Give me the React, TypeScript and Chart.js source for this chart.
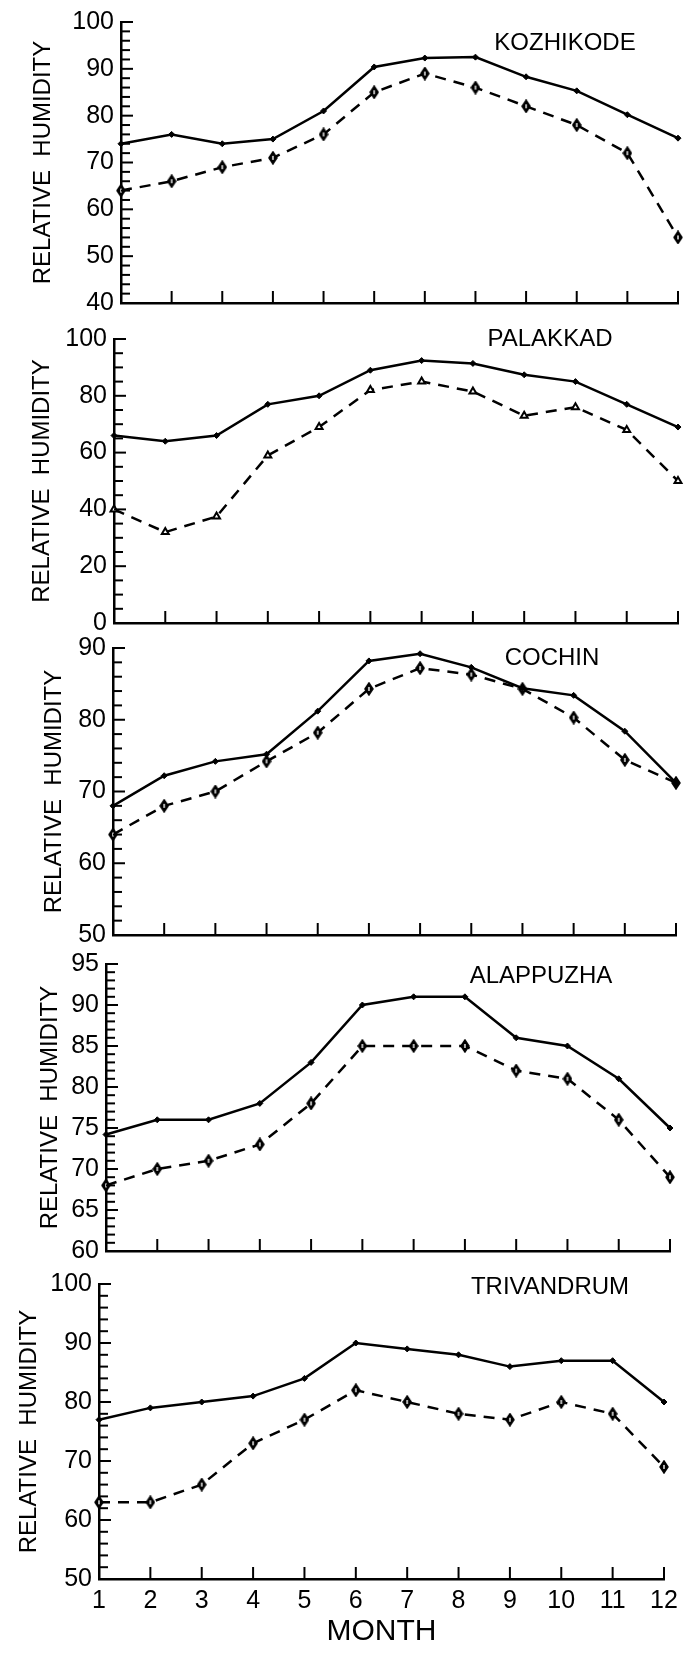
import React, { useEffect, useRef } from 'react';
import { Chart, registerables } from 'chart.js';

Chart.register(...registerables);

const months = ['1', '2', '3', '4', '5', '6', '7', '8', '9', '10', '11', '12'];

const stationNames = ['KOZHIKODE', 'PALAKKAD', 'COCHIN', 'ALAPPUZHA', 'TRIVANDRUM'];

const kozhikodeMax = [74, 76, 74, 75, 81, 90.4, 92.3, 92.5, 88.3, 85.3, 80.2, 75.2];
const kozhikodeMin = [64, 66, 69, 71, 76, 85, 89, 86, 82, 78, 72, 54];

const palakkadMax = [66, 64, 66, 77, 80, 89, 92.4, 91.4, 87.4, 85, 77, 69];
const palakkadMin = [40, 32, 37.5, 59, 69, 82, 85, 81.5, 73, 76, 68, 50];

const cochinMax = [68, 72.2, 74.2, 75.2, 81.2, 88.2, 89.2, 87.3, 84.4, 83.4, 78.4, 71.2];
const cochinMin = [64, 68, 70, 74.2, 78.2, 84.3, 87.2, 86.3, 84.3, 80.3, 74.4, 71.2];

const alappuzhaMax = [74.2, 76, 76, 78, 83, 90, 91, 91, 86, 85, 81, 75];
const alappuzhaMin = [68, 70, 71, 73, 78, 85, 85, 85, 82, 81, 76, 69];

const trivandrumMax = [77, 79, 80, 81, 84, 90, 89, 88, 86, 87, 87, 80];
const trivandrumMin = [63, 63, 66, 73, 77, 82, 80, 78, 77, 80, 78, 69];

const yMins = [40, 0, 50, 60, 50];
const yMaxs = [100, 100, 90, 95, 100];
const yMajorSteps = [10, 20, 10, 5, 10];
const yMinorSteps = [2, 5, 2, 1, 2];

const maxSeries = [kozhikodeMax, palakkadMax, cochinMax, alappuzhaMax, trivandrumMax];
const minSeries = [kozhikodeMin, palakkadMin, cochinMin, alappuzhaMin, trivandrumMin];

const yTitle = 'RELATIVE  HUMIDITY';
const xTitle = 'MONTH';

// layout (page pixels)
const LAYOUT = [
  { left: 121, right: 684, top: 18, bottom: 305, titlePad: 29, labelX: 565, labelY: 43 },
  { left: 114, right: 678, top: 337, bottom: 625, titlePad: 28, labelX: 550, labelY: 339 },
  { left: 113, right: 676, top: 646, bottom: 937, titlePad: 40, labelX: 552, labelY: 658 },
  { left: 106, right: 670, top: 962, bottom: 1253, titlePad: 36, labelX: 541, labelY: 976 },
  { left: 99, right: 664, top: 1282, bottom: 1579, titlePad: 15, labelX: 550, labelY: 1287 },
];

const PAGE_W = 685;
const PAGE_H = 1653;
const FONT = "'Liberation Sans', Arial, Helvetica, sans-serif";

function makeDiamond() {
  const c = document.createElement('canvas');
  c.width = 10;
  c.height = 14;
  const g = c.getContext('2d')!;
  g.beginPath();
  g.moveTo(5, 1);
  g.lineTo(9, 7);
  g.lineTo(5, 13);
  g.lineTo(1, 7);
  g.closePath();
  g.fillStyle = '#000';
  g.fill();
  g.lineWidth = 1.5;
  g.strokeStyle = '#000';
  g.stroke();
  g.fillStyle = '#fff';
  g.fillRect(4.3, 5, 1.4, 4);
  return c;
}

const inwardTicks = {
  id: 'inwardTicks',
  afterDraw(chart: any, _args: any, opts: any) {
    const { ctx, chartArea, scales } = chart;
    const ys = scales.y;
    const xs = scales.x;
    ctx.save();
    ctx.strokeStyle = '#000';
    ctx.lineWidth = 2;
    const minor = opts.minor;
    const major = opts.major;
    for (let v = ys.min; v <= ys.max + 1e-6; v += minor) {
      const py = ys.getPixelForValue(v);
      const isMajor = Math.abs(((v - ys.min) / major) - Math.round((v - ys.min) / major)) < 1e-6;
      const len = isMajor ? 12 : 9;
      ctx.beginPath();
      ctx.moveTo(chartArea.left, py);
      ctx.lineTo(chartArea.left + len, py);
      ctx.stroke();
    }
    for (let i = 1; i < xs.ticks.length; i++) {
      const px = xs.getPixelForTick(i);
      ctx.beginPath();
      ctx.moveTo(px, chartArea.bottom);
      ctx.lineTo(px, chartArea.bottom - 12);
      ctx.stroke();
    }
    // station name
    ctx.fillStyle = '#000';
    ctx.font = `24px ${FONT}`;
    ctx.textAlign = 'center';
    ctx.textBaseline = 'middle';
    ctx.fillText(opts.label, opts.labelX, opts.labelY);
    ctx.restore();
  },
};

function Panel({ idx }: { idx: number }) {
  const ref = useRef<HTMLCanvasElement>(null);
  const L = LAYOUT[idx];
  const isLast = idx === LAYOUT.length - 1;
  const padTop = Math.min(20, L.top);
  const canvasTop = L.top - padTop;
  const canvasBottom = isLast ? PAGE_H : L.bottom + 20;
  const h = canvasBottom - canvasTop;
  const padBottom = isLast ? 0 : 20;
  const xHeight = isLast ? PAGE_H - L.bottom : 0;

  useEffect(() => {
    const canvas = ref.current!;
    const diamond = makeDiamond();
    const chart = new Chart(canvas, {
      type: 'line',
      data: {
        labels: months,
        datasets: [
          {
            data: maxSeries[idx],
            borderColor: '#000',
            borderWidth: 2.5,
            pointStyle: 'rectRot',
            pointRadius: 3,
            pointBackgroundColor: '#000',
            pointBorderColor: '#000',
            pointBorderWidth: 1,
            tension: 0,
          },
          {
            data: minSeries[idx],
            borderColor: '#000',
            borderWidth: 2.5,
            borderDash: [11, 8],
            pointStyle: idx === 1 ? 'triangle' : (diamond as any),
            pointRadius: idx === 1 ? 4 : 5,
            pointBackgroundColor: idx === 1 ? '#fff' : '#000',
            pointBorderColor: '#000',
            pointBorderWidth: 2,
            tension: 0,
          },
        ],
      },
      options: {
        animation: false,
        responsive: false,
        devicePixelRatio: 1,
        layout: {
          padding: { left: 0, top: padTop, right: PAGE_W - L.right, bottom: padBottom },
        },
        plugins: {
          legend: { display: false },
          tooltip: { enabled: false },
          inwardTicks: {
            minor: yMinorSteps[idx],
            major: yMajorSteps[idx],
            label: stationNames[idx],
            labelX: L.labelX,
            labelY: L.labelY - canvasTop,
          },
        } as any,
        scales: {
          x: {
            type: 'category',
            offset: false,
            grid: { display: false, drawTicks: false },
            border: { display: true, color: '#000', width: 2.5 },
            ticks: {
              display: isLast,
              color: '#000',
              font: { family: FONT, size: 25 },
              padding: 7,
              maxRotation: 0,
              autoSkip: false,
            },
            title: {
              display: isLast,
              text: xTitle,
              color: '#000',
              font: { family: FONT, size: 30 },
              padding: { top: 0, bottom: 3 },
            },
            afterFit: (scale: any) => {
              scale.height = xHeight;
            },
          },
          y: {
            type: 'linear',
            min: yMins[idx],
            max: yMaxs[idx],
            grid: { display: false, drawTicks: false },
            border: { display: true, color: '#000', width: 2.5 },
            ticks: {
              stepSize: yMajorSteps[idx],
              color: '#000',
              font: { family: FONT, size: 25 },
              padding: 7,
            },
            title: {
              display: true,
              text: yTitle,
              color: '#000',
              font: { family: FONT, size: 24 },
              padding: { top: L.titlePad, bottom: 0 },
            },
            afterFit: (scale: any) => {
              scale.width = L.left;
            },
          },
        },
      },
      plugins: [inwardTicks],
    });
    return () => chart.destroy();
  }, []);

  return (
    <canvas
      ref={ref}
      width={PAGE_W}
      height={h}
      style={{ position: 'absolute', left: 0, top: canvasTop, width: PAGE_W, height: h, display: 'block' }}
    />
  );
}

export default function App() {
  return (
    <div
      style={{
        position: 'absolute',
        left: 0,
        top: 0,
        width: PAGE_W,
        height: PAGE_H,
        background: '#fff',
        overflow: 'hidden',
      }}
    >
      {LAYOUT.map((_, i) => (
        <Panel key={i} idx={i} />
      ))}
    </div>
  );
}
